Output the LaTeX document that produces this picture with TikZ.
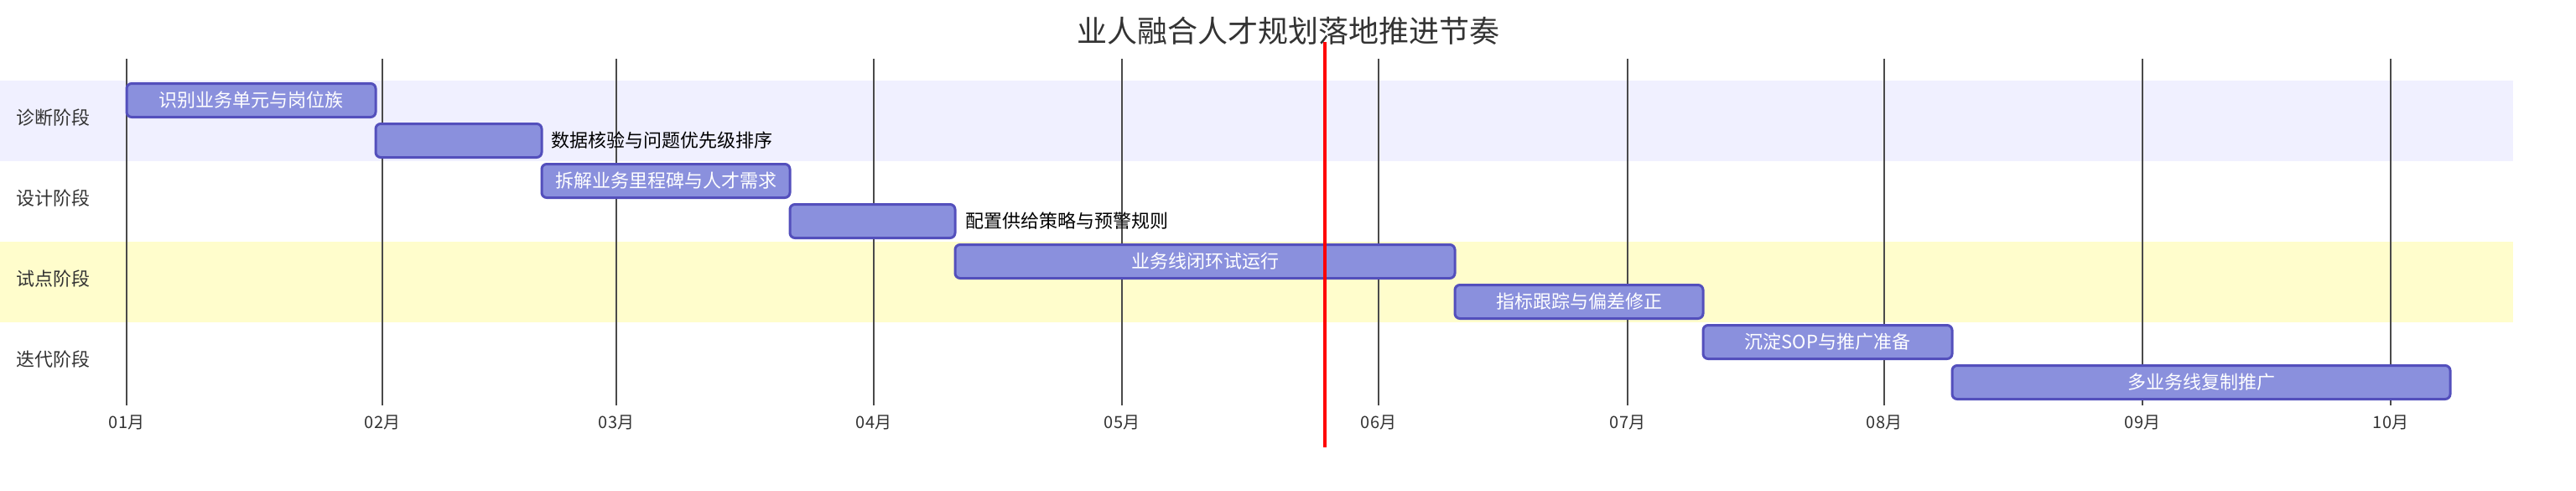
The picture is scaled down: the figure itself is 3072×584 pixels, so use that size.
\documentclass[tikz,border=0pt]{standalone}
\usepackage{fontspec}
\setmainfont{Noto Sans CJK SC}
\usepackage{xcolor}
\usetikzlibrary{positioning}
\definecolor{bandpurple}{HTML}{F0F0FF}
\definecolor{bandyellow}{HTML}{FFFDCC}
\definecolor{barfill}{HTML}{8A90DD}
\definecolor{barline}{HTML}{534FBC}
\definecolor{gridgray}{HTML}{4A4A4A}
\definecolor{labelgray}{HTML}{333333}

\begin{document}
\begin{tikzpicture}[x=0.5pt,y=-0.5pt,
  bar/.style={draw=barline,fill=barfill,line width=1.5pt,rounded corners=3pt},
  tasktext/.style={white,font=\fontsize{11}{13}\selectfont,inner sep=0pt},
  outtext/.style={black,font=\fontsize{11}{13}\selectfont,inner sep=0pt,anchor=west},
  sectext/.style={labelgray,font=\fontsize{11}{13}\selectfont,inner sep=0pt,anchor=west},
  ticktext/.style={labelgray,font=\fontsize{10}{12}\selectfont,inner sep=0pt},
  gridline/.style={gridgray,line width=1pt}]
\useasboundingbox (0,0) rectangle (3072,584);
\fill[bandpurple] (0,96) rectangle (2997,192);
\fill[bandyellow] (0,288) rectangle (2997,384);
\node[labelgray,font=\fontsize{18}{22}\selectfont,inner sep=0pt] (title) at (1536,37) {业人融合人才规划落地推进节奏};
\node[sectext] (sec1) at (19,140) {诊断阶段};
\node[sectext] (sec2) at (19,236) {设计阶段};
\node[sectext] (sec3) at (19,332) {试点阶段};
\node[sectext] (sec4) at (19,428) {迭代阶段};
\draw[gridline] (151,70)--(151,483);
\draw[gridline] (456,70)--(456,483);
\draw[gridline] (735,70)--(735,483);
\draw[gridline] (1042,70)--(1042,483);
\draw[gridline] (1338,70)--(1338,483);
\draw[gridline] (1644,70)--(1644,483);
\draw[gridline] (1941,70)--(1941,483);
\draw[gridline] (2247,70)--(2247,483);
\draw[gridline] (2555,70)--(2555,483);
\draw[gridline] (2851,70)--(2851,483);
\node[ticktext] (m01) at (151,503) {01月};
\node[ticktext] (m02) at (456,503) {02月};
\node[ticktext] (m03) at (735,503) {03月};
\node[ticktext] (m04) at (1042,503) {04月};
\node[ticktext] (m05) at (1338,503) {05月};
\node[ticktext] (m06) at (1644,503) {06月};
\node[ticktext] (m07) at (1941,503) {07月};
\node[ticktext] (m08) at (2247,503) {08月};
\node[ticktext] (m09) at (2555,503) {09月};
\node[ticktext] (m10) at (2851,503) {10月};
\draw[bar] (151,99.5) rectangle (448,139.5);
\node[tasktext] (task1) at (299.5,119.5) {识别业务单元与岗位族};
\draw[bar] (448,147.5) rectangle (646,187.5);
\node[outtext] (task2) at (657,167.5) {数据核验与问题优先级排序};
\draw[bar] (646,195.5) rectangle (942,235.5);
\node[tasktext] (task3) at (794,215.5) {拆解业务里程碑与人才需求};
\draw[bar] (942,243.5) rectangle (1139,283.5);
\node[outtext] (task4) at (1151,263.5) {配置供给策略与预警规则};
\draw[bar] (1139,291.5) rectangle (1735,331.5);
\node[tasktext] (task5) at (1437,311.5) {业务线闭环试运行};
\draw[bar] (1735,339.5) rectangle (2031,379.5);
\node[tasktext] (task6) at (1883,359.5) {指标跟踪与偏差修正};
\draw[bar] (2031,387.5) rectangle (2328,427.5);
\node[tasktext] (task7) at (2179.5,407.5) {沉淀SOP与推广准备};
\draw[bar] (2328,435.5) rectangle (2922,475.5);
\node[tasktext] (task8) at (2625,455.5) {多业务线复制推广};
\draw[red,line width=2pt] (1580,50)--(1580,533);
\end{tikzpicture}
\end{document}
